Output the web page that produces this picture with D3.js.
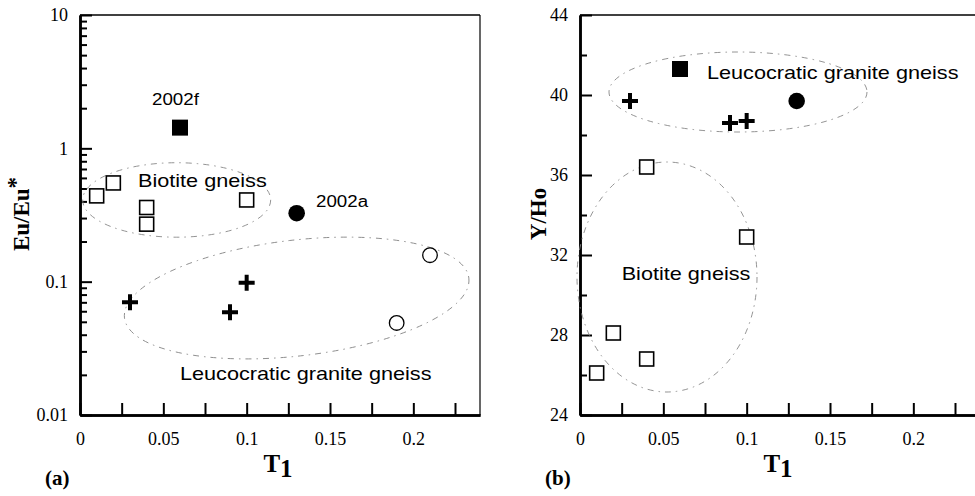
<!DOCTYPE html>
<html>
<head>
<meta charset="utf-8">
<script src="https://cdn.jsdelivr.net/npm/d3@7"></script>
<style>
    body { margin: 0; background: #fff; }
    svg { display: block; background: #fff; }
    .tick text { font-family: "Liberation Serif", "Times New Roman", serif; font-size: 18px; fill: #000; }
    .tick line { stroke: #000; stroke-width: 2; }
    .domain { stroke: #000; stroke-width: 2.5; }
    .serif { font-family: "Liberation Serif", "Times New Roman", serif; font-weight: bold; fill: #000; }
    .note { font-family: "Liberation Sans", Arial, sans-serif; font-size: 18.5px; fill: #000; }
</style>
</head>
<body>
<svg id="chart" width="975" height="496"></svg>
<script>
// shared x axis (T1)
var xTickValues = [0, 0.05, 0.1, 0.15, 0.2];
var xTickLabels = ["0", "0.05", "0.1", "0.15", "0.2"];
var xMinorTicks = [0.025, 0.075, 0.125, 0.175, 0.225];

// panel (a): T1 vs Eu/Eu*
var yTickValuesA = [0.01, 0.1, 1, 10];
var yTickLabelsA = ["0.01", "0.1", "1", "10"];
var biotiteA = [[0.01, 0.44], [0.02, 0.55], [0.04, 0.36], [0.04, 0.27], [0.10, 0.41]];
var leucoCrossA = [[0.03, 0.070], [0.09, 0.059], [0.10, 0.098]];
var leucoCircleA = [[0.19, 0.049], [0.21, 0.158]];
var sample2002fA = [[0.06, 1.43]];
var sample2002aA = [[0.13, 0.326]];

// panel (b): T1 vs Y/Ho
var yTickValuesB = [24, 28, 32, 36, 40, 44];
var yTickLabelsB = ["24", "28", "32", "36", "40", "44"];
var yMinorTicksB = [26, 30, 34, 38, 42];
var biotiteB = [[0.01, 26.1], [0.02, 28.1], [0.04, 26.8], [0.04, 36.4], [0.10, 32.9]];
var leucoCrossB = [[0.03, 39.7], [0.09, 38.6], [0.10, 38.7]];
var sample2002fB = [[0.06, 41.3]];
var sample2002aB = [[0.13, 39.7]];

// group outlines: centre, left end (x0) and top (y1) in data units
var ellipsesA = [
    {cx: 0.058, cy: 0.41, x0: 0.0016, y1: 0.78, angle: 0},
    {cx: 0.130, cy: 0.0754, x0: 0.026, y1: 0.205, angle: -6.6}
];
var ellipsesB = [
    {cx: 0.0948, cy: 40.15, x0: 0.0174, y1: 42.15, angle: 0},
    {cx: 0.0522, cy: 30.9, x0: -0.0018, y1: 36.65, angle: 0}
];

var notesA = [
    {text: "2002f", x: 0.0432, y: 2.11, size: 16},
    {text: "2002a", x: 0.1416, y: 0.361, size: 16},
    {text: "Biotite gneiss", x: 0.0348, y: 0.513},
    {text: "Leucocratic granite gneiss", x: 0.06, y: 0.0183}
];
var notesB = [
    {text: "Leucocratic granite gneiss", x: 0.0762, y: 40.8},
    {text: "Biotite gneiss", x: 0.025, y: 30.75}
];

var svg = d3.select("#chart");
var top_ = 15, bottom = 415, plotW = 400;

function drawPanel(cfg) {
    var g = svg.append("g");
    var x = d3.scaleLinear().domain([0, 0.24]).range([cfg.left, cfg.left + plotW]);
    var y = cfg.y;

    // frame (top and right)
    g.append("line").attr("x1", cfg.left).attr("x2", cfg.left + plotW)
        .attr("y1", top_).attr("y2", top_).attr("stroke", "#000").attr("stroke-width", 1.6);
    g.append("line").attr("x1", cfg.left + plotW).attr("x2", cfg.left + plotW)
        .attr("y1", top_).attr("y2", bottom).attr("stroke", "#000").attr("stroke-width", 1.2);

    // x axis
    g.append("g").attr("transform", "translate(0," + bottom + ")")
        .call(d3.axisBottom(x).tickValues(xMinorTicks).tickFormat("")
            .tickSizeInner(-12).tickSizeOuter(0));
    g.append("g").attr("transform", "translate(0," + bottom + ")")
        .call(d3.axisBottom(x).tickValues(xTickValues)
            .tickFormat(function (d, i) { return xTickLabels[i]; })
            .tickSizeInner(-12).tickSizeOuter(0).tickPadding(17));

    // y axis
    g.append("g").attr("transform", "translate(" + cfg.left + ",0)")
        .call(d3.axisLeft(y).tickValues(cfg.yMinor).tickFormat("")
            .tickSizeInner(-7).tickSizeOuter(0));
    g.append("g").attr("transform", "translate(" + cfg.left + ",0)")
        .call(d3.axisLeft(y).tickValues(cfg.yTicks)
            .tickFormat(function (d, i) { return cfg.yLabels[i]; })
            .tickSizeInner(-12).tickSizeOuter(0).tickPadding(12));

    // outlines
    g.selectAll(".outline").data(cfg.ellipses).enter().append("ellipse")
        .attr("class", "outline")
        .attr("transform", function (e) {
            return "translate(" + x(e.cx) + "," + y(e.cy) + ") rotate(" + e.angle + ")";
        })
        .attr("rx", function (e) { return x(e.cx) - x(e.x0); })
        .attr("ry", function (e) { return y(e.cy) - y(e.y1); })
        .attr("fill", "none")
        .attr("stroke", "#888")
        .attr("stroke-width", 0.9)
        .attr("stroke-dasharray", "6,5,1.5,5");

    // markers
    var s = 14;
    g.selectAll(".osq").data(cfg.openSquares).enter().append("rect")
        .attr("x", function (d) { return x(d[0]) - s / 2; })
        .attr("y", function (d) { return y(d[1]) - s / 2; })
        .attr("width", s).attr("height", s)
        .attr("fill", "#fff").attr("stroke", "#000").attr("stroke-width", 1.6);

    g.selectAll(".fsq").data(cfg.filledSquares).enter().append("rect")
        .attr("x", function (d) { return x(d[0]) - 8; })
        .attr("y", function (d) { return y(d[1]) - 8; })
        .attr("width", 16).attr("height", 16)
        .attr("fill", "#000");

    g.selectAll(".fci").data(cfg.filledCircles).enter().append("circle")
        .attr("cx", function (d) { return x(d[0]); })
        .attr("cy", function (d) { return y(d[1]); })
        .attr("r", 8.3).attr("fill", "#000");

    g.selectAll(".oci").data(cfg.openCircles || []).enter().append("circle")
        .attr("cx", function (d) { return x(d[0]); })
        .attr("cy", function (d) { return y(d[1]); })
        .attr("r", 7.3).attr("fill", "#fff").attr("stroke", "#000").attr("stroke-width", 1.3);

    g.selectAll(".crs").data(cfg.crosses).enter().append("path")
        .attr("d", function (d) {
            var px = x(d[0]), py = y(d[1]);
            return "M" + (px - 8) + "," + py + "H" + (px + 8) +
                "M" + px + "," + (py - 8) + "V" + (py + 8);
        })
        .attr("stroke", "#000").attr("stroke-width", 4);

    // notes, stretched a bit wider as in the scanned figure
    g.selectAll(".note").data(cfg.notes).enter().append("text")
        .attr("class", "note")
        .attr("x", function (d) { return x(d.x); })
        .attr("y", function (d) { return y(d.y); })
        .style("font-size", function (d) { return (d.size || 18.5) + "px"; })
        .text(function (d) { return d.text; })
        .each(function () {
            var len = this.getComputedTextLength();
            d3.select(this).attr("textLength", len * 1.17).attr("lengthAdjust", "spacingAndGlyphs");
        });

    // axis titles
    var t = g.append("text").attr("class", "serif")
        .attr("x", x(0.12) - 2).attr("y", 472)
        .attr("text-anchor", "middle").style("font-size", "25px");
    t.append("tspan").text("T");
    t.append("tspan").attr("dy", 5).text("1");

    var yt = g.append("text").attr("class", "serif")
        .attr("transform", "translate(" + cfg.yTitleX + ",214) rotate(-90)")
        .attr("text-anchor", "middle").style("font-size", "23px");
    yt.append("tspan").text(cfg.yTitle);
    if (cfg.yTitleSup) {
        yt.append("tspan").attr("dy", -6).text(cfg.yTitleSup);
    }

    g.append("text").attr("class", "serif")
        .attr("x", cfg.left - 35).attr("y", 485)
        .style("font-size", "21px")
        .text(cfg.tag);
}

drawPanel({
    left: 80,
    y: d3.scaleLog().domain([0.01, 10]).range([bottom, top_]),
    yTicks: yTickValuesA,
    yLabels: yTickLabelsA,
    yMinor: d3.scaleLog().domain([0.01, 10]).ticks().filter(function (d) {
        return yTickValuesA.indexOf(d) < 0;
    }),
    yTitle: "Eu/Eu",
    yTitleSup: "*",
    yTitleX: 29,
    ellipses: ellipsesA,
    openSquares: biotiteA,
    filledSquares: sample2002fA,
    filledCircles: sample2002aA,
    openCircles: leucoCircleA,
    crosses: leucoCrossA,
    notes: notesA,
    tag: "(a)"
});

drawPanel({
    left: 580,
    y: d3.scaleLinear().domain([24, 44]).range([bottom, top_]),
    yTicks: yTickValuesB,
    yLabels: yTickLabelsB,
    yMinor: yMinorTicksB,
    yTitle: "Y/Ho",
    yTitleX: 546,
    ellipses: ellipsesB,
    openSquares: biotiteB,
    filledSquares: sample2002fB,
    filledCircles: sample2002aB,
    crosses: leucoCrossB,
    notes: notesB,
    tag: "(b)"
});
</script>
</body>
</html>
